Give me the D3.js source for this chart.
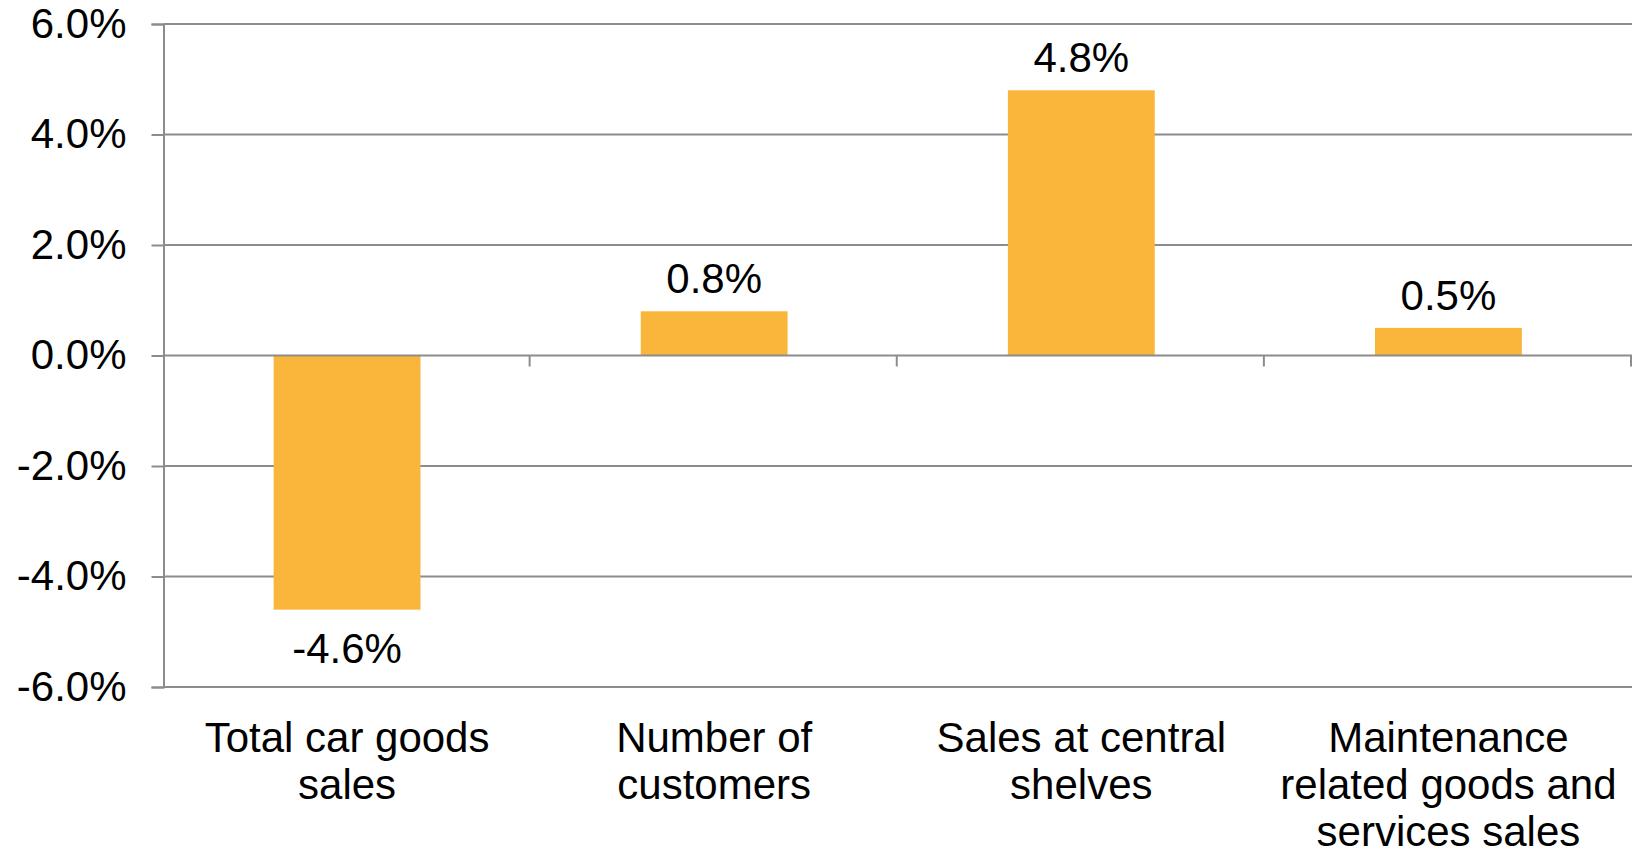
<!DOCTYPE html>
<html>
<head>
<meta charset="utf-8">
<script src="https://cdn.jsdelivr.net/npm/d3@7"></script>
<style>
  body { margin: 0; background: #fff; }
  text { font-family: "Liberation Sans", Arial, sans-serif; fill: #000; }
</style>
</head>
<body>
<div id="vis"></div>
<script>
// data
const CATEGORIES = ["Total car goods sales", "Number of customers", "Sales at central shelves", "Maintenance related goods and services sales"];
const CATEGORY_LINES = [
  ["Total car goods", "sales"],
  ["Number of", "customers"],
  ["Sales at central", "shelves"],
  ["Maintenance", "related goods and", "services sales"]
];
const VALUES = [-4.6, 0.8, 4.8, 0.5];
const Y_TICKS = [-6, -4, -2, 0, 2, 4, 6];

// frame
const FRAME_WIDTH = 1632;
const FRAME_HEIGHT = 856;
const MARGINS = {left: 163.5, right: 0, top: 24, bottom: 169};
const GRID = "#8c8c8c";
const BAR = "#F9B63A";
const FONT = "42px";

const svg = d3.select("#vis")
  .append("svg")
  .attr("width", FRAME_WIDTH)
  .attr("height", FRAME_HEIGHT);

const X_SCALE = d3.scaleBand()
  .domain(CATEGORIES)
  .range([MARGINS.left, FRAME_WIDTH - MARGINS.right]);

const Y_SCALE = d3.scaleLinear()
  .domain([-6, 6])
  .range([FRAME_HEIGHT - MARGINS.bottom, MARGINS.top]);

// bar is band / (1 + gap 150%)
const barW = X_SCALE.bandwidth() / 2.5;

// gridlines
svg.append("g")
  .selectAll("line")
  .data(Y_TICKS.filter(d => d !== 0))
  .enter()
  .append("line")
    .attr("x1", MARGINS.left)
    .attr("x2", FRAME_WIDTH)
    .attr("y1", d => Y_SCALE(d))
    .attr("y2", d => Y_SCALE(d))
    .attr("stroke", GRID)
    .attr("stroke-width", 2);

// bars
svg.append("g")
  .selectAll("rect")
  .data(VALUES)
  .enter()
  .append("rect")
    .attr("x", (d, i) => X_SCALE(CATEGORIES[i]) + X_SCALE.bandwidth() / 2 - barW / 2)
    .attr("y", d => Y_SCALE(Math.max(0, d)))
    .attr("width", barW)
    .attr("height", d => Math.abs(Y_SCALE(d) - Y_SCALE(0)))
    .attr("fill", BAR);

// y axis
const yAxis = svg.append("g")
  .attr("transform", "translate(" + MARGINS.left + ",0)")
  .call(d3.axisLeft(Y_SCALE)
    .tickValues(Y_TICKS)
    .tickSize(12)
    .tickPadding(25)
    .tickFormat(d => d.toFixed(1) + "%"));
yAxis.selectAll("line").attr("stroke", GRID).attr("stroke-width", 2);
yAxis.select(".domain").attr("stroke", GRID).attr("stroke-width", 2);
yAxis.selectAll("text")
  .attr("font-size", FONT)
  .attr("font-family", "'Liberation Sans', Arial, sans-serif")
  .attr("fill", "#000");

// zero line with category ticks
const xAxis = svg.append("g")
  .attr("transform", "translate(0," + Y_SCALE(0) + ")");
xAxis.append("line")
  .attr("x1", MARGINS.left)
  .attr("x2", FRAME_WIDTH)
  .attr("stroke", GRID)
  .attr("stroke-width", 2);
xAxis.selectAll(".ctick")
  .data(CATEGORIES)
  .enter()
  .append("line")
    .attr("class", "ctick")
    .attr("x1", d => X_SCALE(d) + X_SCALE.bandwidth() - 1)
    .attr("x2", d => X_SCALE(d) + X_SCALE.bandwidth() - 1)
    .attr("y1", 0)
    .attr("y2", 11)
    .attr("stroke", GRID)
    .attr("stroke-width", 2);

// value labels
svg.append("g")
  .selectAll("text")
  .data(VALUES)
  .enter()
  .append("text")
    .attr("x", (d, i) => X_SCALE(CATEGORIES[i]) + X_SCALE.bandwidth() / 2)
    .attr("y", d => d >= 0 ? Y_SCALE(d) - 18 : Y_SCALE(d) + 53)
    .attr("text-anchor", "middle")
    .attr("font-size", FONT)
    .text(d => d.toFixed(1) + "%");

// category labels
const cats = svg.append("g")
  .selectAll("text")
  .data(CATEGORY_LINES)
  .enter()
  .append("text")
    .attr("text-anchor", "middle")
    .attr("font-size", FONT);
cats.selectAll("tspan")
  .data((d, i) => d.map(line => ({line: line, cat: CATEGORIES[i]})))
  .enter()
  .append("tspan")
    .attr("x", d => X_SCALE(d.cat) + X_SCALE.bandwidth() / 2)
    .attr("y", (d, j) => Y_SCALE(-6) + 65 + j * 47)
    .text(d => d.line);
</script>
</body>
</html>
